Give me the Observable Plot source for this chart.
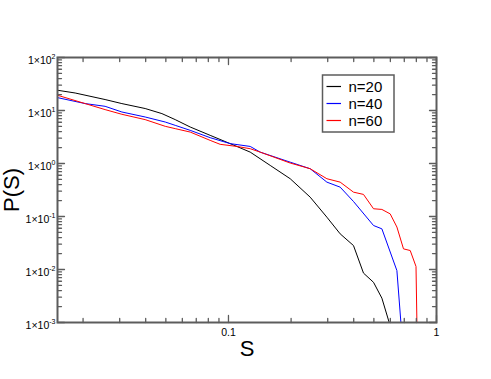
<!DOCTYPE html>
<html><head><meta charset="utf-8">
<script src="https://cdn.jsdelivr.net/npm/d3@7"></script>
<script src="https://cdn.jsdelivr.net/npm/@observablehq/plot@0.6"></script>
<style>
body{margin:0;background:#fff;}
#wrap{width:491px;height:379px;}
</style></head><body><div id="wrap"></div>
<script>
// ---- data ----
const s20 = [0.01507,0.01832,0.02552,0.03073,0.03977,0.04786,0.05546,0.06546,0.08166,0.1019,0.1272,0.1587,0.1980,0.2470,0.2972,0.3443,0.399,0.4457,0.498,0.5463,0.5924];
const p20 = [24.1,21.4,16.1,13.5,10.9,8.74,6.73,4.88,3.40,2.37,1.64,0.920,0.516,0.232,0.0970,0.0471,0.0283,0.00855,0.00573,0.00288,0.001];
const s40 = [0.01507,0.02047,0.02552,0.03073,0.03977,0.04966,0.05546,0.06546,0.08166,0.1019,0.1272,0.1420,0.1980,0.2470,0.2972,0.3443,0.399,0.498,0.5463,0.6451,0.6743];
const p40 = [17.5,13.5,12.0,9.37,7.54,6.06,5.25,4.22,3.07,2.37,2.10,1.64,1.06,0.797,0.445,0.358,0.192,0.0676,0.0585,0.00953,0.001];
const s60 = [0.01507,0.02047,0.02552,0.03073,0.03977,0.04966,0.05546,0.06546,0.08166,0.0912,0.1097,0.1272,0.1420,0.1980,0.2470,0.2972,0.3443,0.399,0.4457,0.498,0.5463,0.5990,0.6451,0.6940,0.7475,0.7970,0.8050];
const p60 = [19.4,13.5,10.4,8.48,6.73,5.03,4.55,3.92,2.73,2.30,2.10,1.90,1.64,1.02,0.797,0.516,0.445,0.288,0.261,0.140,0.136,0.112,0.0633,0.0245,0.0228,0.0114,0.001];

const seriesNames = ["n=20","n=40","n=60"];
const seriesColors = ["#000000","#0000ff","#ff0000"];

const xMajor = [0.1, 1];
const xMajorLabels = ["0.1", "1"];
const xMinor = [0.02,0.03,0.04,0.05,0.06,0.07,0.08,0.09,0.2,0.3,0.4,0.5,0.6,0.7,0.8,0.9];
const yMajor = [1e-3,1e-2,1e-1,1e0,1e1,1e2];
const yMajorExp = ["-3","-2","-1","0","1","2"];
const yMinor = [];
for (const e of [-3,-2,-1,0,1]) for (const m of [2,3,4,5,6,7,8,9]) yMinor.push(+(m + "e" + e));

const xDomain = [0.01507, 1];
const yDomain = [1e-3, 1e2];

// ---- build ----
const toRows = (s, p, name) => s.map((v, i) => ({s: v, p: p[i], n: name}));
const data = [
  ...toRows(s20, p20, seriesNames[0]),
  ...toRows(s40, p40, seriesNames[1]),
  ...toRows(s60, p60, seriesNames[2])
];

const gray = "#5c5c5c";
const font = "'Liberation Sans', Arial, Helvetica, sans-serif";

// inward tick helpers (vectors anchored on the frame)
const tk = (vals, ch, frameAnchor, rotate, length) => Plot.vector(vals, {
  [ch]: d => d, frameAnchor, rotate, length, anchor: "start", r: 0,
  stroke: gray, strokeWidth: 1.3
});

const xLabelOf = d => xMajorLabels[xMajor.indexOf(d)];
const yLabelOf = d => "1×10^" + yMajorExp[yMajor.indexOf(d)];

const plot = Plot.plot({
  width: 491, height: 379,
  marginLeft: 57, marginRight: 55, marginTop: 57, marginBottom: 57,
  style: {fontFamily: font, background: "#fff", color: "black"},
  x: {type: "log", domain: xDomain},
  y: {type: "log", domain: yDomain},
  color: {domain: seriesNames, range: seriesColors},
  marks: [
    Plot.line(data, {x: "s", y: "p", z: "n", stroke: "n", strokeWidth: 1, clip: true}),
    // ticks (inward) on all four sides
    tk(xMajor, "x", "bottom", 0, 7),
    tk(xMinor, "x", "bottom", 0, 4),
    tk(xMajor, "x", "top", 180, 7),
    tk(xMinor, "x", "top", 180, 4),
    tk(yMajor, "y", "left", 90, 7),
    tk(yMinor, "y", "left", 90, 4),
    tk(yMajor, "y", "right", -90, 7),
    tk(yMinor, "y", "right", -90, 4),
    // tick labels
    Plot.axisX(xMajor, {anchor: "bottom", tickSize: 0, tickPadding: 6, stroke: "none", fontSize: 10.5,
      tickFormat: xLabelOf, label: null}),
    Plot.axisY(yMajor, {anchor: "left", tickSize: 0, tickPadding: 2, stroke: "none", fontSize: 10.5, dy: 3.5,
      tickFormat: yLabelOf, label: null}),
    // axis titles
    Plot.text(["S"], {frameAnchor: "bottom", lineAnchor: "bottom", dy: 33, fontSize: 22, text: d => d}),
    Plot.text(["P(S)"], {frameAnchor: "left", lineAnchor: "bottom", textAnchor: "middle", rotate: -90, dx: -39, fontSize: 22, text: d => d}),
    Plot.frame({stroke: gray, strokeWidth: 2})
  ]
});

document.getElementById("wrap").appendChild(plot);
const svg = d3.select(plot);

// superscript exponents in y tick labels
svg.selectAll('g[aria-label="y-axis tick label"] text').each(function() {
  const t = this.textContent;
  const k = t.indexOf("^");
  if (k < 0) return;
  const base = t.slice(0, k), exp = t.slice(k + 1);
  const sel = d3.select(this);
  sel.text(null);
  sel.append("tspan").text(base);
  sel.append("tspan").attr("dy", -5.4).attr("font-size", 7).text(exp);
});

// legend box
const lg = svg.append("g").attr("font-family", font).attr("text-anchor", "start");
lg.append("rect").attr("x", 322.5).attr("y", 75).attr("width", 71.5).attr("height", 57)
  .attr("fill", "white").attr("stroke", gray).attr("stroke-width", 1.5);
const rowGap = 17, firstY = 86.5;
seriesNames.forEach((name, i) => {
  const cy = firstY + i * rowGap;
  lg.append("line").attr("x1", 326.5).attr("x2", 341).attr("y1", cy).attr("y2", cy)
    .attr("stroke", seriesColors[i]).attr("stroke-width", 1.2);
  lg.append("text").attr("x", 348.5).attr("y", cy + 5.5).attr("font-size", 15)
    .attr("text-anchor", "start").attr("fill", "black").text(name);
});
</script>
</body></html>
